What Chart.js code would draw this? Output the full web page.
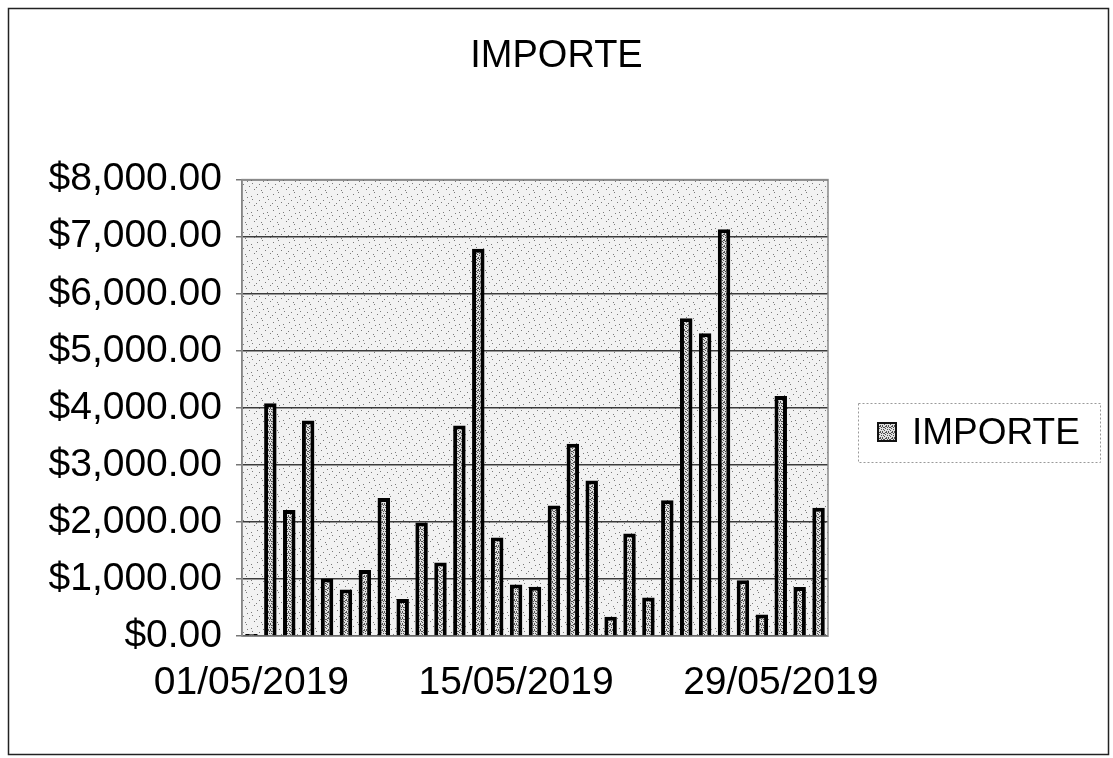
<!DOCTYPE html>
<html>
<head>
<meta charset="utf-8">
<script src="https://cdn.jsdelivr.net/npm/chart.js@4/dist/chart.umd.min.js"></script>
<style>
  html, body { margin: 0; padding: 0; background: #ffffff; }
  #wrap { width: 1113px; height: 758px; position: relative; }
</style>
</head>
<body>
<div id="wrap"><canvas id="c" width="1113" height="758"></canvas></div>
<script>
const chartTitle = 'IMPORTE';
const seriesName = 'IMPORTE';
const categories = [
  '01/05/2019','02/05/2019','03/05/2019','04/05/2019','05/05/2019','06/05/2019','07/05/2019',
  '08/05/2019','09/05/2019','10/05/2019','11/05/2019','12/05/2019','13/05/2019','14/05/2019',
  '15/05/2019','16/05/2019','17/05/2019','18/05/2019','19/05/2019','20/05/2019','21/05/2019',
  '22/05/2019','23/05/2019','24/05/2019','25/05/2019','26/05/2019','27/05/2019','28/05/2019',
  '29/05/2019','30/05/2019','31/05/2019'
];
const importe = [
  40, 4080, 2210, 3780, 1010, 820, 1160,
  2420, 650, 1990, 1290, 3690, 6790, 1730,
  905, 865, 2290, 3370, 2730, 340, 1800,
  680, 2380, 5570, 5310, 7130, 980, 380,
  4210, 860, 2250
];
const xTickLabels = ['01/05/2019', '15/05/2019', '29/05/2019'];
const yTickValues = [0, 1000, 2000, 3000, 4000, 5000, 6000, 7000, 8000];

const FONT = '"Liberation Sans", Arial, sans-serif';

function makePattern(base, dotColor, dots, size) {
  const p = document.createElement('canvas');
  p.width = size; p.height = size;
  const g = p.getContext('2d');
  g.fillStyle = base;
  g.fillRect(0, 0, size, size);
  g.fillStyle = dotColor;
  dots.forEach(d => g.fillRect(d[0], d[1], 1, 1));
  return g.createPattern(p, 'repeat');
}
const ctx = document.getElementById('c').getContext('2d');
const bgPattern = makePattern('#f2f2f2', '#7a7a7a',
  [[1,2],[6,0],[11,4],[3,8],[9,10],[14,13],[5,14],[12,7],[0,11],[7,5]], 16);
const barPattern = makePattern('#e0e0e0', '#505050',
  [[0,0],[2,1],[4,0],[1,3],[3,2],[5,3],[0,5],[2,4],[4,5],[3,0],[1,1],[5,1]], 6);

const fmt = v => '$' + v.toLocaleString('en-US', {minimumFractionDigits: 2, maximumFractionDigits: 2});

// Right-side box that reserves space for the legend (drawn inside it)
const legendBoxPlugin = {
  id: 'legendBox',
  beforeInit(chart) {
    const box = {
      position: 'right',
      weight: 0,
      fullSize: false,
      options: {},
      left: 0, top: 0, right: 0, bottom: 0, width: 0, height: 0,
      isHorizontal() { return false; },
      update(maxWidth, maxHeight) { this.width = 285; this.height = maxHeight; },
      getPadding() { return {top: 0, left: 0, right: 0, bottom: 0}; },
      draw() {
        const c = chart.ctx;
        const ds = chart.data.datasets[0];
        const lx = this.left + 30, ly = 403, lw = 242, lh = 59;
        c.save();
        c.strokeStyle = '#9a9a9a';
        c.lineWidth = 1;
        c.setLineDash([2, 2]);
        c.strokeRect(lx + 0.5, ly + 0.5, lw, lh);
        c.setLineDash([]);
        c.fillStyle = ds.backgroundColor;
        c.fillRect(lx + 20, 423, 18, 18);
        c.strokeStyle = '#111';
        c.lineWidth = 2;
        c.strokeRect(lx + 20, 423, 18, 18);
        c.fillStyle = '#000';
        c.font = '37px ' + FONT;
        c.textBaseline = 'middle';
        c.textAlign = 'left';
        c.fillText(ds.label, lx + 54, 434);
        c.restore();
      }
    };
    Chart.layouts.addBox(chart, box);
  }
};

const decor = {
  id: 'decor',
  beforeDraw(chart) {
    const {ctx, chartArea: a} = chart;
    ctx.save();
    ctx.fillStyle = bgPattern;
    ctx.fillRect(a.left, a.top, a.right - a.left, a.bottom - a.top);
    ctx.restore();
  },
  afterDatasetsDraw(chart) {
    const {ctx, chartArea: a} = chart;
    ctx.save();
    ctx.strokeStyle = '#8a8a8a';
    ctx.lineWidth = 1.5;
    ctx.strokeRect(a.left, a.top, a.right - a.left, a.bottom - a.top);
    ctx.restore();
  },
  afterDraw(chart) {
    const {ctx} = chart;
    ctx.save();
    ctx.strokeStyle = '#222';
    ctx.lineWidth = 1.5;
    ctx.strokeRect(8.5, 8.5, 1100, 746);
    ctx.restore();
  }
};

new Chart(ctx, {
  type: 'bar',
  data: {
    labels: categories,
    datasets: [{
      label: seriesName,
      data: importe,
      backgroundColor: barPattern,
      borderColor: '#000000',
      borderWidth: 4,
      borderSkipped: 'bottom',
      barPercentage: 0.66,
      categoryPercentage: 1.0
    }]
  },
  options: {
    responsive: false,
    animation: false,
    layout: { padding: { left: 0, right: 0, top: 8, bottom: 35 } },
    plugins: {
      legend: { display: false },
      tooltip: { enabled: false },
      title: {
        display: true,
        text: chartTitle,
        color: '#000',
        font: { family: FONT, size: 38, weight: 'normal' },
        padding: { top: 26, bottom: 100 }
      }
    },
    scales: {
      x: {
        grid: { display: false },
        border: { display: false },
        ticks: {
          autoSkip: false,
          maxRotation: 0,
          minRotation: 0,
          padding: 16,
          color: '#000',
          font: { family: FONT, size: 39 },
          callback: function(value) {
            const lab = this.getLabelForValue(value);
            return xTickLabels.includes(lab) ? lab : '';
          }
        }
      },
      y: {
        min: yTickValues[0],
        max: yTickValues[yTickValues.length - 1],
        afterBuildTicks: axis => { axis.ticks = yTickValues.map(v => ({value: v})); },
        afterFit: axis => { axis.width = 242; },
        grid: { color: '#3a3a3a', lineWidth: 1.5, tickLength: 6, tickColor: '#777' },
        border: { display: true, color: '#777', width: 1.5 },
        ticks: {
          padding: 14,
          color: '#000',
          font: { family: FONT, size: 39 },
          callback: v => fmt(v)
        }
      }
    }
  },
  plugins: [legendBoxPlugin, decor]
});
</script>
</body>
</html>
